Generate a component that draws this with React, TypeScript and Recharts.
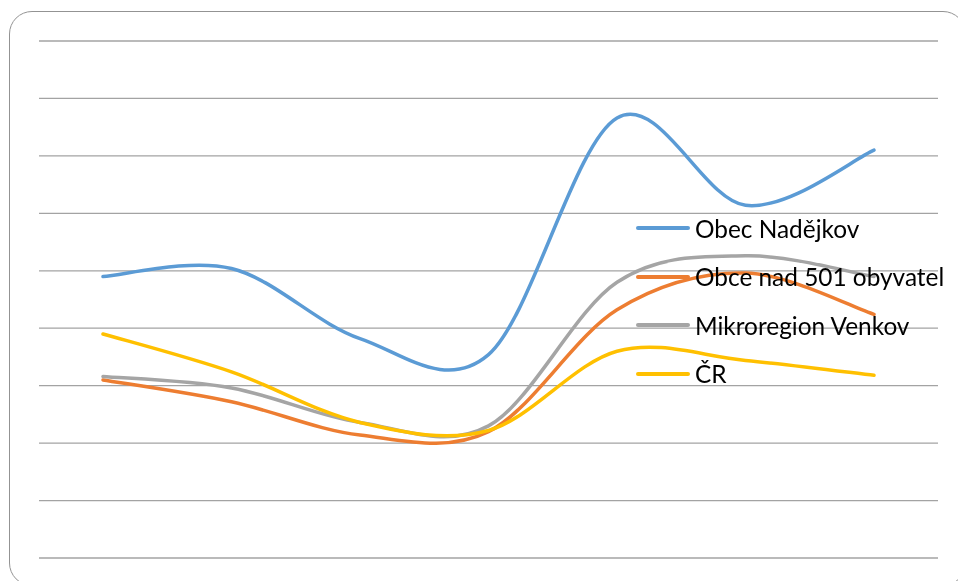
import React from "react";
import { LineChart, Line, XAxis, YAxis, CartesianGrid, Legend } from "recharts";

const categories = ["1", "2", "3", "4", "5", "6", "7"];
const seriesNames = ["Obec Nadějkov", "Obce nad 501 obyvatel", "Mikroregion Venkov", "ČR"];
const obecNadejkov = [24.5, 25.2, 19.1, 17.7, 38.3, 30.7, 35.5];
const obceNad501 = [15.5, 13.6, 10.7, 11.0, 21.6, 24.8, 21.2];
const mikroregion = [15.8, 14.8, 11.8, 11.5, 24.0, 26.3, 24.5];
const cr = [19.5, 16.2, 11.8, 11.1, 18.0, 17.2, 15.9];
const yTicks = [0, 5, 10, 15, 20, 25, 30, 35, 40, 45];

const data = categories.map((c, i) => ({
  cat: c,
  nadejkov: obecNadejkov[i],
  obce501: obceNad501[i],
  mikro: mikroregion[i],
  cr: cr[i],
}));

// smooth line like Excel (Catmull-Rom as bezier)
const excelCurve = (context: any) => {
  let pts: number[][] = [];
  return {
    areaStart() {},
    areaEnd() {},
    lineStart() {
      pts = [];
    },
    point(x: number, y: number) {
      pts.push([x, y]);
    },
    lineEnd() {
      if (!pts.length) return;
      context.moveTo(pts[0][0], pts[0][1]);
      for (let i = 0; i < pts.length - 1; i++) {
        const p0 = pts[i - 1] || pts[i];
        const p1 = pts[i];
        const p2 = pts[i + 1];
        const p3 = pts[i + 2] || p2;
        context.bezierCurveTo(
          p1[0] + (p2[0] - p0[0]) / 6,
          p1[1] + (p2[1] - p0[1]) / 6,
          p2[0] - (p3[0] - p1[0]) / 6,
          p2[1] - (p3[1] - p1[1]) / 6,
          p2[0],
          p2[1]
        );
      }
    },
  };
};

const LegendContent = (props: any) => {
  const items = [...(props.payload || [])].sort(
    (a: any, b: any) => seriesNames.indexOf(a.value) - seriesNames.indexOf(b.value)
  );
  return (
    <div>
      {items.map((entry: any) => (
        <div
          key={entry.value}
          style={{ display: "flex", alignItems: "center", height: 48.5 }}
        >
          <div
            style={{
              width: 54,
              height: 4,
              borderRadius: 2,
              backgroundColor: entry.color,
              marginRight: 5,
            }}
          />
          <span
            style={{
              fontFamily: "Lato, sans-serif",
              fontSize: 24.4,
              color: "#000",
              whiteSpace: "nowrap",
            }}
          >
            {entry.value}
          </span>
        </div>
      ))}
    </div>
  );
};

export default function App() {
  return (
    <div
      style={{
        position: "relative",
        width: 942,
        height: 565,
        background: "white",
      }}
    >
      <div
        style={{
          position: "fixed",
          left: 9,
          top: 11,
          width: 957,
          height: 575,
          border: "1.5px solid #939393",
          borderRadius: 23,
          boxSizing: "border-box",
        }}
      />
      <div style={{ position: "absolute", left: 0, top: 0 }}>
        <LineChart
          width={942}
          height={565}
          data={data}
          margin={{ top: 33, right: 12, left: 31, bottom: 15 }}
        >
          <CartesianGrid vertical={false} stroke="#a3a3a3" strokeWidth={1.3} />
          <XAxis dataKey="cat" hide padding={{ left: 64, right: 64 }} />
          <YAxis hide domain={[0, 45]} ticks={yTicks} />
          <Legend
            layout="horizontal"
            align="center"
            verticalAlign="middle"
            itemSorter={null as any}
            content={<LegendContent />}
            wrapperStyle={{ left: 628, top: 196, width: 320 }}
          />
          <Line
            dataKey="nadejkov"
            name={seriesNames[0]}
            type={excelCurve as any}
            stroke="#5B9BD5"
            strokeWidth={3.5}
            dot={false}
            strokeLinecap="round"
            isAnimationActive={false}
          />
          <Line
            dataKey="obce501"
            name={seriesNames[1]}
            type={excelCurve as any}
            stroke="#ED7D31"
            strokeWidth={3.5}
            dot={false}
            strokeLinecap="round"
            isAnimationActive={false}
          />
          <Line
            dataKey="mikro"
            name={seriesNames[2]}
            type={excelCurve as any}
            stroke="#A5A5A5"
            strokeWidth={3.5}
            dot={false}
            strokeLinecap="round"
            isAnimationActive={false}
          />
          <Line
            dataKey="cr"
            name={seriesNames[3]}
            type={excelCurve as any}
            stroke="#FFC000"
            strokeWidth={3.5}
            dot={false}
            strokeLinecap="round"
            isAnimationActive={false}
          />
        </LineChart>
      </div>
    </div>
  );
}
